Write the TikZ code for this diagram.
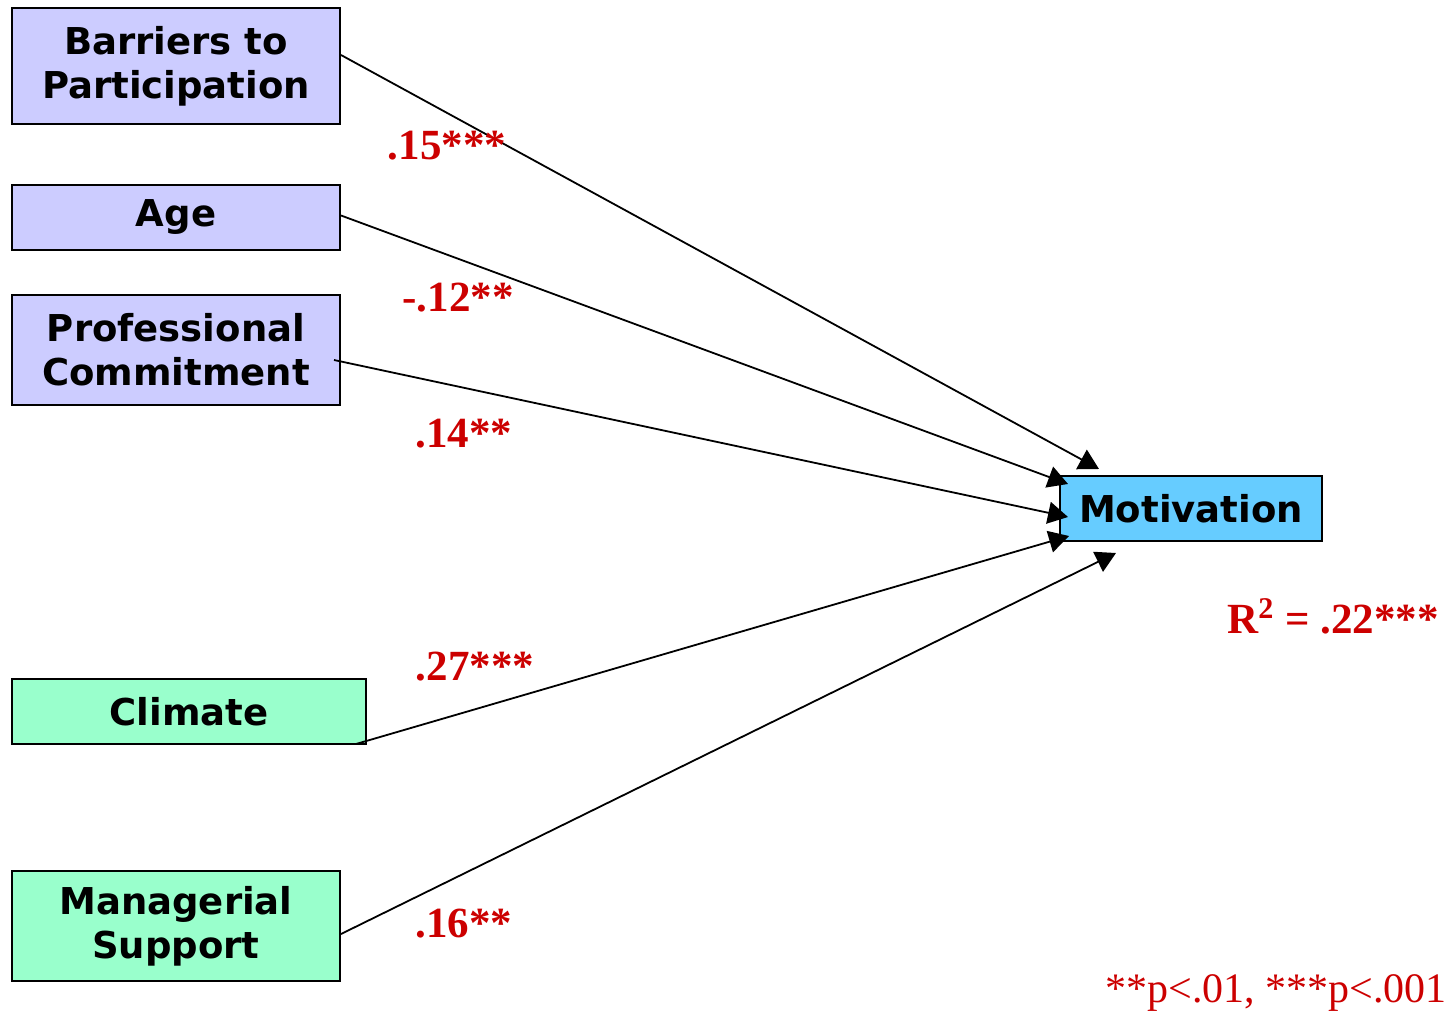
\documentclass[tikz,border=0pt]{standalone}
\usepackage{fontspec}
\setmainfont{Liberation Serif}
\newfontfamily\boxfont{DejaVu Sans}
\usetikzlibrary{arrows.meta}

\definecolor{lavbox}{HTML}{CCCCFF}
\definecolor{mintbox}{HTML}{99FFCC}
\definecolor{skybox}{HTML}{66CCFF}
\definecolor{coefred}{HTML}{CC0000}

\tikzset{
  varbox/.style={draw, line width=1pt, inner sep=0pt, align=center,
    font=\boxfont\bfseries\fontsize{18.5}{22}\selectfont},
  coef/.style={text=coefred, inner sep=0pt, font=\bfseries\fontsize{21.5}{24}\selectfont},
  path/.style={line width=0.9pt, -{Triangle[length=10pt,width=11pt]}}
}

\begin{document}
\begin{tikzpicture}[x=0.5pt, y=-0.5pt]

	\useasboundingbox (0,0) rectangle (1445,1016);

	% predictors
	\node[varbox, fill=lavbox, minimum width=164pt, minimum height=58pt] (barriers) at (176,66) {Barriers to\\Participation};
	\node[varbox, fill=lavbox, minimum width=164pt, minimum height=32.5pt] (age) at (176,217.5) {Age};
	\node[varbox, fill=lavbox, minimum width=164pt, minimum height=55pt] (prof) at (176,350) {Professional\\Commitment};
	\node[varbox, fill=mintbox, minimum width=177pt, minimum height=32.5pt] (climate) at (189,711.5) {Climate};
	\node[varbox, fill=mintbox, minimum width=164pt, minimum height=55pt] (manag) at (176,926) {Managerial\\Support};

	% outcome
	\node[varbox, fill=skybox, minimum width=131pt, minimum height=32.5pt] (motiv) at (1191,508.5) {Motivation};

	\coordinate (tipA) at ([xshift=20pt, yshift=3pt]motiv.north west);
	\coordinate (tipB) at ([xshift=4.5pt, yshift=-4.5pt]motiv.north west);
	\coordinate (tipC) at ([xshift=4.5pt, yshift=-4.25pt]motiv.west);
	\coordinate (tipD) at ([xshift=5pt, yshift=3pt]motiv.south west);
	\coordinate (tipE) at ([xshift=28.5pt, yshift=-5.5pt]motiv.south west);

	\draw[path] ([yshift=5.5pt]barriers.east) -- (tipA);
	\draw[path] ([yshift=1pt]age.east) -- (tipB);
	\draw[path] ([xshift=-3.5pt, yshift=-5pt]prof.east) -- (tipC);
	\draw[path] ([xshift=-5.5pt, yshift=0.5pt]climate.south east) -- (tipD);
	\draw[path] ([yshift=-4pt]manag.east) -- (tipE);

	% coefficients
	\node[coef] (w1) at (447,146) {.15***};
	\node[coef] (w2) at (458,298) {-.12**};
	\node[coef] (w3) at (464,434) {.14**};
	\node[coef] (w4) at (475,667) {.27***};
	\node[coef] (w5) at (464,924) {.16**};

	\node[coef] (rsq) at (1333,616) {R\textsuperscript{2} = .22***};
	\node[coef, font=\fontsize{21}{24}\selectfont] (note) at (1276,993) {**p<.01, ***p<.001};

\end{tikzpicture}
\end{document}
